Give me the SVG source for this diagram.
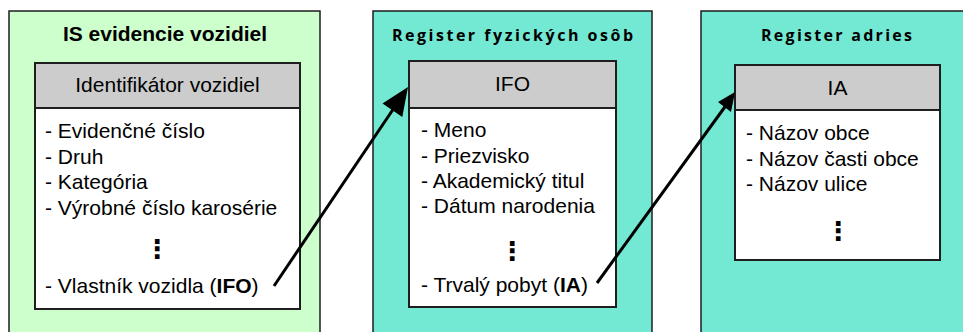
<svg xmlns="http://www.w3.org/2000/svg" width="963" height="332" viewBox="0 0 963 332">
<style>
.panel{stroke:#1e1e1e;stroke-width:1.5}
.green{fill:#ccffcc}
.teal{fill:#73e8d2}
.box{fill:#ffffff;stroke:#1e1e1e;stroke-width:2}
.hdr{fill:#cccccc;stroke:#1e1e1e;stroke-width:2}
.t1{font-family:"Liberation Sans",Arial,sans-serif;font-size:21px;font-weight:bold;fill:#000}
.t2{font-family:"Open Sans","Liberation Sans",sans-serif;font-size:16px;font-weight:bold;fill:#000}
.txt{font-family:"Liberation Sans",Arial,sans-serif;font-size:21px;fill:#000}
.dots{font-family:"DejaVu Sans",sans-serif;font-size:26px;font-weight:bold;fill:#000}
.conn{stroke:#000;stroke-width:3;fill:none}
</style>
<g id="panel-is">
<rect class="panel green" x="9" y="11" width="311" height="340"/>
<text class="t1" x="165" y="41" text-anchor="middle">IS evidencie vozidiel</text>
</g>
<g id="panel-rfo">
<rect class="panel teal" x="373" y="11" width="279" height="340"/>
<text class="t2" x="512.5" y="41" text-anchor="middle" textLength="241" lengthAdjust="spacing">Register fyzických osôb</text>
</g>
<g id="panel-ra">
<rect class="panel teal" x="701" y="11" width="280" height="340"/>
<text class="t2" x="836.5" y="41" text-anchor="middle" textLength="151" lengthAdjust="spacing">Register adries</text>
</g>
<g id="node-vozidlo">
<rect class="box" x="35" y="63" width="265" height="246"/>
<rect class="hdr" x="35" y="63" width="265" height="45"/>
<text class="txt" x="167.5" y="92" text-anchor="middle">Identifikátor vozidiel</text>
<text class="txt" x="45" y="138">- Evidenčné číslo</text>
<text class="txt" x="45" y="164">- Druh</text>
<text class="txt" x="45" y="189">- Kategória</text>
<text class="txt" x="45" y="215">- Výrobné číslo karosérie</text>
<text class="dots" x="157" y="258" text-anchor="middle">⋮</text>
<text class="txt" x="45" y="293">- Vlastník vozidla (<tspan font-weight="bold">IFO</tspan>)</text>
</g>
<g id="node-ifo">
<rect class="box" x="409" y="61" width="207" height="246"/>
<rect class="hdr" x="409" y="61" width="207" height="47"/>
<text class="txt" x="512.5" y="91" text-anchor="middle">IFO</text>
<text class="txt" x="421" y="137">- Meno</text>
<text class="txt" x="421" y="163">- Priezvisko</text>
<text class="txt" x="421" y="188">- Akademický titul</text>
<text class="txt" x="421" y="213">- Dátum narodenia</text>
<text class="dots" x="512" y="260" text-anchor="middle">⋮</text>
<text class="txt" x="421" y="292">- Trvalý pobyt (<tspan font-weight="bold">IA</tspan>)</text>
</g>
<g id="node-ia">
<rect class="box" x="735" y="65" width="205" height="195"/>
<rect class="hdr" x="735" y="65" width="205" height="45"/>
<text class="txt" x="837.5" y="95" text-anchor="middle">IA</text>
<text class="txt" x="746" y="140">- Názov obce</text>
<text class="txt" x="746" y="166">- Názov časti obce</text>
<text class="txt" x="746" y="191">- Názov ulice</text>
<text class="dots" x="838" y="240" text-anchor="middle">⋮</text>
</g>
<g id="connectors">
<line class="conn" x1="274" y1="286" x2="396" y2="105"/>
<polygon points="408,87 382.5,103.5 402.3,116.9" fill="#000"/>
<line class="conn" x1="597" y1="283" x2="727" y2="104"/>
<polygon points="735,92 718,102 731,112" fill="#000"/>
</g>
</svg>
